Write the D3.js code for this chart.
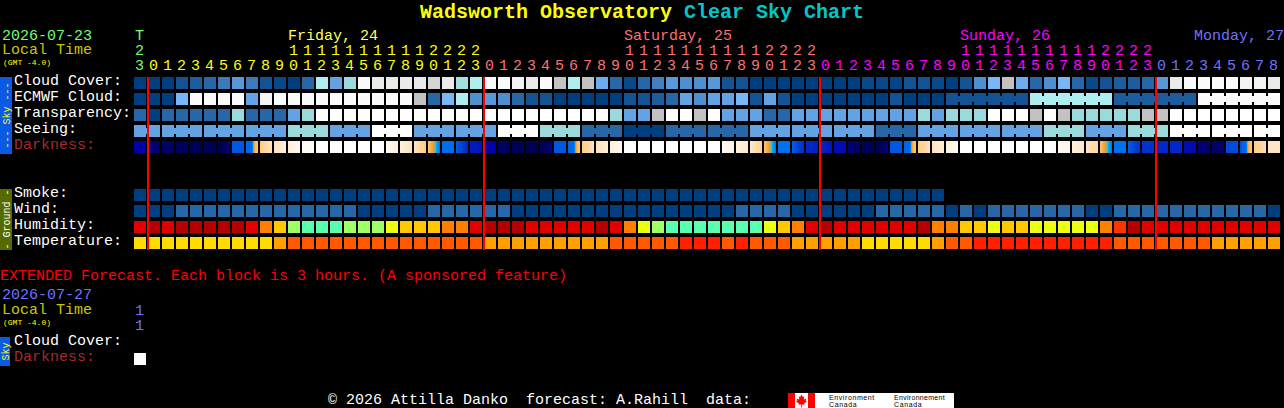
<!DOCTYPE html>
<html><head><meta charset="utf-8">
<script src="https://cdn.jsdelivr.net/npm/d3@7/dist/d3.min.js"></script>
<style>
html,body{margin:0;padding:0;background:#000;overflow:hidden}
svg{display:block}
text{font-family:"Liberation Mono","DejaVu Sans Mono",monospace;white-space:pre}
rect{shape-rendering:crispEdges}
</style></head><body>
<svg id="c" width="1284" height="408" xmlns="http://www.w3.org/2000/svg"></svg>
<script>
// ---- data: levels ----
const cloudCover = [
 0,0,0,1,1.5,2,3,4.5,3,1,
 0.5,0,2,8,5,7,11,10,10,10,
 10,9.5,10,7.3,8,11,11,10.5,10,11,
 9,8,9,5.5,2,0.5,2,3.3,4.5,4,
 4,4.5,1,1,0,0,0,0,0,0,
 0,0,0.5,0.5,0.3,1,1,0.5,0,1,
 4,6,9,5.5,2,4,6,2,0.5,1,
 1.5,1.5,2,4.5,10,11,11,11,11,10.5,
 10.5,10];
const ecmwfCloud = [
 0,0,0,6,11,11,11,11,5,10.5,
 11,11,11,11,11,11,11,11,11,11,
 9,2,6,8,4,4.5,4,2,1,1,
 0,0,0,0,0,1,1,1.5,2,5,
 4,5,5,6,1,5,1,0,0,0,
 0,0,0,0,1,0,0,0,1,1,
 1,1,1,1,8,8,8,8,8,8,
 1.5,1.5,1.5,1.5,1.5,1.5,11,11,11,11,
 11,11];
const ecmwfBlocks = [1,1,1,1,1,1,1,1,1,1,1,1,1,1,1,1,1,1,1,1,1,1,1,1,1,1,1,1,1,1,1,1,1,1,1,1,1,1,1,1,1,1,1,1,1,1,1,1,1,1,1,1,1,1,1,1,1,1,6,6,6,6];
const transparency = [
 2,0,2,2,2,2,2,7,2,2,
 2,5,7,12,12,12,12,12,12,12,
 12,12,12,12,12,12,12,12,12,12,
 12,12,12,12,7,5,5,9,12,12,
 9,12,5,5,5,2,2,5,5,5,
 5,5,5,5,5,5,7,5,7,7,
 7,12,12,12,9,12,9,7,7,7,
 7,7,9,9,12,12,12,12,12,12,
 12,12];
const seeingBlocks = [2,3,3,3,3,3,3,3,3,3,3,3,3,3,3,3,3,3,3,3,3,3,3,3,3,3,3,2];
const seeingLevels = [5,5,5,5,7,5,12,5,5,12,7,2,0,2,2,5,5,5,2,5,5,5,7,5,7,12,12,12];
const darkness = [
 [2,2],[1.5,1],[1,.8],[.8,.7],[.7,.6],[.7,.7],[.6,.7,1.5],[4,4],[4.5,4.5,4.5,7.5,7.8],[8,8.8],
 [8.8,9.3],[9.3,9.7],[9.8,9.9],[10,10],[10,10],[10,10],[10,10],[10,10],[9.8,9.3],[9.3,8.8],
 [8.8,8],[7.8,7.3,6.8,5.5,5],[4.7,4.7],[4,3.5,3],[2.7,2.5],[2.2,2],[1,.7],[.7,.7],[.6,.6],[.7,.7,1.5],
 [4,4],[4.3,4.6,4.6,7.5,7.8],[8,8.7],[8.7,9.3],[9.3,9.7],[10,10],[10,10],[10,10],[10,10],[10,10],
 [10,10],[10,10],[9.8,9.4],[9.4,9],[9,8.2],[7.8,7.3,6.8,5.5,5],[4.8,4.8],[4.2,3.5,3.2],[3,2.8],[3,2.5],
 [2.3,2.3],[1.3,.9],[.7,.7],[.6,.7,1.5],[4,4],[4.3,4.5,4.5,7.5,7.8],[8,8.7],[8.8,9.3],[9.4,9.8],[10,10],
 [10,10],[10,10],[10,10],[10,10],[10,10],[10,9.9],[9.8,9.5],[9.3,9],[8.8,8.4],[7.8,7.3,6.8,5.5,5],
 [4.8,4.8],[4.2,3.5,3.3],[3.2,3.2],[3,3],[3,3],[2.3,2.3],[1.2,1],[1,1],[3.7,3.8],[3.8,4.5,4.5,7.5,7.8],
 [8,8.6],[8.9,8.9]];
const smoke = [
 0,0,0,0,0,0,0,0,0,0,
 0,0,0,0,0,0,0,0,0,0,
 0,0,0,0,0,0,0,0,0,0,
 0,0,0,0,0,0,0,0,0,0,
 0,0,0,0,0,0,0,0,0,0,
 0,0,0,0,0,0,0,0];
const wind = [
 0,0,0,2,2,2,2,2,2,2,
 2,2,2,2,2,2,0,0,0,0,
 0,2,2,2,2,2,2,0,0,0,
 0,0,0,0,0,0,0,0,0,0,
 0,0,0,2,2,2,2,0,0,0,
 0,0,0,2,2,2,2,2,0,2,
 0,2,2,2,2,2,2,2,0,0,
 2,2,2,2,2,2,2,2,2,2,
 2,0];
const humidity = [
 1,0,1,0,0,0,0,0,1,3,
 4,6,7,7,7,6,6,6,5,4,
 4,4,3,3,1,0,0,0,1,1,
 1,1,1,0,1,3,5,6,7,7,
 7,7,7,7,7,5,4,3,1,0,
 1,1,1,1,1,1,0,3,3,4,
 4,5,4,4,5,5,5,5,5,3,
 2,0,1,1,1,1,1,1,1,1,
 1,1];
const temperature = [
 3,3,3,3,3,3,3,3,3,3,
 2,1,1,1,1,1,1,1,1,1,
 1,1,1,1,1,2,2,2,2,2,
 2,2,2,2,1,1,1,1,1,0,
 0,0,1,0,1,1,1,2,2,2,
 2,2,3,3,3,3,3,2,1,1,
 0,0,0,0,0,0,0,0,0,0,
 1,1,1,1,1,1,1,2,2,2,
 2,2];
const extendedDarkness = [[10,10]];
const firstHour = 23;
const dayBreaks = [1,25,49,73];
const dayLabels = [
 {t:"Friday, 24",col:11,c:0},{t:"Saturday, 25",col:35,c:1},{t:"Sunday, 26",col:59,c:2}];
const hourLabel = d3.range(82).map(i => (firstHour+i)%24);
const hourTens = hourLabel.map(h => h>=10 ? Math.floor(h/10) : null);

// ---- scales ----
const cellW = 12, cellH = 12;
const x = d3.scaleLinear().domain([0,82]).range([134,1282]);
const y = d3.scaleOrdinal()
  .domain(["cloud","ecmwf","trans","seeing","dark","smoke","wind","humid","temp","xdark"])
  .range([77,93,109,125,141,189,205,221,237,353]);
const levelColor = d3.scaleLinear().domain(d3.range(13))
  .range(["#003f7f","#135393","#2767a7","#3b7bbb","#4f8fcf","#63a3e3","#77b7f7","#9adada","#aeeeee","#c2c2c2","#eaeaea","#fbfbfb","#ffffff"]);
const darkColor = d3.scaleLinear().domain(d3.range(11))
  .range(["#000033","#000066","#0000a8","#0028c8","#0058e0","#0078f0","#00d0ff","#ff9a20","#ffcc88","#ffe8cc","#ffffff"]);
const humidColor = d3.scaleOrdinal().domain(d3.range(8))
  .range(["#b40000","#e10000","#ff3200","#ff8000","#ffc800","#eaff12","#a0ff64","#5affaf"]);
const tempColor = d3.scaleOrdinal().domain(d3.range(4))
  .range(["#ff2000","#ff5a00","#ffa000","#ffdc00"]);
const dayColor = ["#ffff00","#ff7070","#ff00ff","#7070ff"];
const colOf = i => i<1 ? "#70ff70" : dayColor[d3.bisectRight(dayBreaks,i)-1];

const svg = d3.select("#c");
svg.append("rect").attr("width",1284).attr("height",408).attr("fill","#000");

function txt(t,px,py,fill,size,opts={}){
  const e = svg.append("text").attr("x",px).attr("y",py).attr("fill",fill)
    .attr("font-size",size).text(t);
  if(opts.bold) e.attr("font-weight","bold");
  if(opts.family) e.style("font-family",opts.family);
  if(opts.spacing) e.style("letter-spacing",opts.spacing);
  return e;
}
const FS = 15;

// title
txt("Wadsworth Observatory",420,18,"#ffff00",20,{bold:1});
txt("Clear Sky Chart",684,18,"#00c8c8",20,{bold:1});

// left header
txt("2026-07-23",2,40,"#70ff70",FS);
txt("Local Time",2,54,"#c8c800",FS);
txt("(GMT -4.0)",3,65,"#ffff00",8);

// hour headers
txt("T",135,40,"#70ff70",FS);
svg.selectAll("text.ten").data(hourTens.map((v,i)=>({v,i})).filter(d=>d.v!==null)).join("text")
  .attr("class","ten").attr("x",d=>x(d.i)+1).attr("y",55).attr("font-size",FS)
  .attr("fill",d=>colOf(d.i)).text(d=>d.v);
svg.selectAll("text.one").data(hourLabel.map((h,i)=>({h,i}))).join("text")
  .attr("class","one").attr("x",d=>x(d.i)+1).attr("y",70).attr("font-size",FS)
  .attr("fill",d=>colOf(d.i)).text(d=>d.h%10);
svg.selectAll("text.day").data(dayLabels).join("text")
  .attr("class","day").attr("x",d=>x(d.col)).attr("y",40).attr("font-size",FS)
  .attr("fill",d=>d.c===0?"#ffff66":dayColor[d.c]).text(d=>d.t);
txt("Monday, 27",1194,40,dayColor[3],FS);

// row labels
const rowLabels = [
 ["Cloud Cover:",85,"#fff"],["ECMWF Cloud:",101,"#fff"],["Transparency:",117,"#fff"],
 ["Seeing:",133,"#fff"],["Darkness:",149,"#a52a2a"],["Smoke:",197,"#fff"],["Wind:",213,"#fff"],
 ["Humidity:",229,"#fff"],["Temperature:",245,"#fff"]];
rowLabels.forEach(d=>txt(d[0],14,d[1],d[2],FS));

// side bars
function sideBar(y0,y1,w,fill,label,tc){
  svg.append("rect").attr("x",0).attr("y",y0).attr("width",w).attr("height",y1-y0).attr("fill",fill);
  svg.append("text").attr("transform",`translate(${w/2+3.5},${(y0+y1)/2}) rotate(-90)`)
    .attr("text-anchor","middle").attr("fill",tc).attr("font-size",10).text(label);
}
sideBar(77,154,12,"#0a5ae6","--- Sky ---","#ffff00");
sideBar(189,250,12,"#556b00","- Ground -","#ffffff");
sideBar(337,366,10,"#0a5ae6","Sky","#ffff00");

// cell rows
function row(name,vals,color){
  svg.append("g").selectAll("rect").data(vals).join("rect")
    .attr("x",(d,i)=>x(i)).attr("y",y(name)).attr("width",cellW).attr("height",cellH)
    .attr("fill",d=>color(d));
}
function links(name,blocks,vals,color){
  let s=0; const out=[];
  blocks.forEach(n=>{ d3.range(s,s+n-1).forEach(i=>out.push({i,v:vals[i]})); s+=n; });
  svg.append("g").selectAll("rect").data(out).join("rect")
    .attr("x",d=>x(d.i)+cellW).attr("y",y(name)+3)
    .attr("width",x(1)-x(0)-cellW).attr("height",cellH-6).attr("fill",d=>color(d.v));
}
const seeing = seeingBlocks.flatMap((n,k)=>d3.range(n).map(()=>seeingLevels[k]));
row("cloud",cloudCover,levelColor);
row("ecmwf",ecmwfCloud,levelColor);
links("ecmwf",ecmwfBlocks,ecmwfCloud,levelColor);
row("trans",transparency,levelColor);
row("seeing",seeing,levelColor);
links("seeing",seeingBlocks,seeing,levelColor);
row("smoke",smoke,levelColor);
row("wind",wind,levelColor);
row("humid",humidity,humidColor);
row("temp",temperature,tempColor);

// darkness: each cell is a run of one-pixel columns between its read stops
function darkRow(name,vals){
  const g = svg.append("g");
  vals.forEach((stops,i)=>{
    const ramp = d3.scaleLinear().domain(stops.map((_,k)=>k*(cellW-1)/(stops.length-1))).range(stops);
    g.selectAll(null).data(d3.range(cellW)).join("rect")
      .attr("x",p=>x(i)+p).attr("y",y(name)).attr("width",1).attr("height",cellH)
      .attr("fill",p=>darkColor(ramp(p)));
  });
}
darkRow("dark",darkness);

// midnight lines
svg.append("g").selectAll("rect").data(dayBreaks).join("rect")
  .attr("x",d=>x(d)-1).attr("y",77).attr("width",2).attr("height",173).attr("fill","#ff0000");

// extended
txt("EXTENDED Forecast. Each block is 3 hours. (A sponsored feature)",0,280,"#ff0000",FS);
txt("2026-07-27",2,299,"#7070ff",FS);
txt("Local Time",2,314,"#c8c800",FS);
txt("(GMT -4.0)",3,325,"#ffff00",8);
txt("1",135,315,"#7070ff",FS);
txt("1",135,330,"#7070ff",FS);
txt("Cloud Cover:",14,345,"#fff",FS);
txt("Darkness:",14,361,"#a52a2a",FS);
darkRow("xdark",extendedDarkness);

// footer
txt("\u00a9 2026 Attilla Danko  forecast: A.Rahill  data:",328,404,"#fff",FS);
const logo = svg.append("g");
logo.append("rect").attr("x",788).attr("y",393).attr("width",166).attr("height",15).attr("fill","#fff");
logo.append("rect").attr("x",788).attr("y",393).attr("width",7).attr("height",15).attr("fill","#ff0000");
logo.append("rect").attr("x",808).attr("y",393).attr("width",7).attr("height",15).attr("fill","#ff0000");
logo.append("path").attr("fill","#ff0000").attr("transform","translate(801.5,400.5)")
  .attr("d","M0,-6 L1.3,-3.5 L2.8,-4 L2.2,-1 L4.8,-2 L4.2,0 L5.5,1 L2.5,3 L3,4.2 L0.4,4 L0.4,7 L-0.4,7 L-0.4,4 L-3,4.2 L-2.5,3 L-5.5,1 L-4.2,0 L-4.8,-2 L-2.2,-1 L-2.8,-4 L-1.3,-3.5 Z");
const LF = '"Liberation Sans",sans-serif';
[["Environment",829,399.5,"0.6px"],["Canada",829,407,"0.6px"],["Environnement",894,399.5,"0.3px"],["Canada",894,407,"0.6px"]]
  .forEach(d=>txt(d[0],d[1],d[2],"#000",7,{family:LF,spacing:d[3]}));
</script>
</body></html>
